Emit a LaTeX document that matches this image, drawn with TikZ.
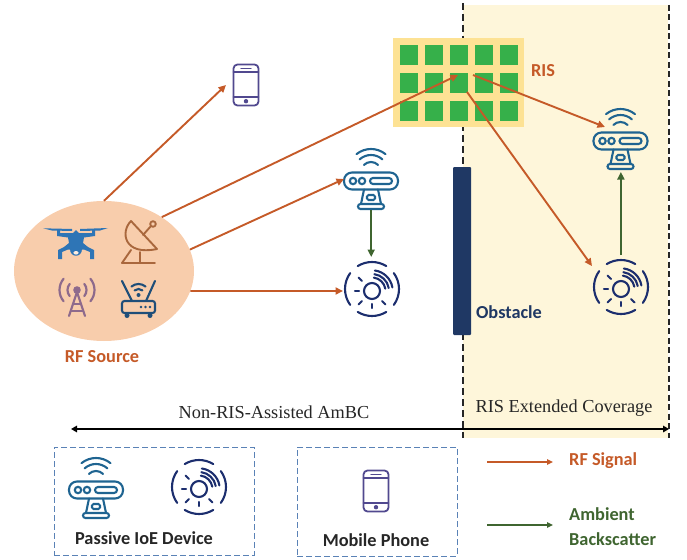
\documentclass[tikz,border=0pt]{standalone}
\usepackage{fontspec}
\setmainfont{Liberation Serif}
\newfontfamily\calb{Carlito}[BoldFont=Carlito Bold]
\usetikzlibrary{arrows.meta,shapes.geometric}
\definecolor{rforange}{HTML}{C55A28}
\definecolor{bsgreen}{HTML}{3F6530}
\definecolor{devblue}{HTML}{1F6491}
\definecolor{sensnavy}{HTML}{1C2E6E}
\definecolor{phonepurple}{HTML}{51498F}
\definecolor{covyellow}{HTML}{FEF6DA}
\definecolor{rispale}{HTML}{FDE294}
\definecolor{risgreen}{HTML}{36B04A}
\definecolor{srcpeach}{HTML}{F8CDAC}
\definecolor{obsnavy}{HTML}{1F3864}
\definecolor{boxblue}{HTML}{5A82B6}
\definecolor{dronec}{HTML}{2E75B6}
\definecolor{dishc}{HTML}{A9673D}
\definecolor{towerc}{HTML}{8E6A8C}
\definecolor{wific}{HTML}{1F4E79}
\newcommand{\parc}[5]{(#1,#2) ++(#4:#3) arc[start angle=#4,end angle=#5,radius=#3]}
\tikzset{
  rfarrow/.style={draw=rforange,line width=1.9pt,-{Triangle[length=7.5pt,width=7pt]}},
  bsarrow/.style={draw=bsgreen,line width=1.9pt,-{Triangle[length=7.5pt,width=7pt]}},
  boundary/.style={draw=black!85,line width=1.5pt,dash pattern=on 7pt off 4pt},
  boundaryr/.style={draw=black!85,line width=1.5pt,dash pattern=on 6pt off 3.5pt},
  legendbox/.style={draw=boxblue,line width=1pt,dash pattern=on 6pt off 3pt},
  calitext/.style={font=\calb\bfseries\fontsize{18.3}{20}\selectfont,inner sep=0pt},
  serifext/.style={font=\fontsize{18.3}{20}\selectfont,text=black!85,inner sep=0pt},
  pics/device/.style={code={
    \begin{scope}[draw=devblue,line width=2.1pt,line cap=round]
      \draw \parc{0}{-9}{23}{231}{309};
      \draw \parc{0}{-9}{17}{228}{312};
      \draw \parc{0}{-9}{10}{225}{315};
      \draw[rounded corners=8pt] (-27,-8.5) rectangle (27,8.5);
      \draw (-18,0) circle[radius=3.2];
      \draw (-9,0) circle[radius=3.2];
      \draw[rounded corners=3pt] (-1,-3) rectangle (21,3);
      \draw (-7,8.5) -- (-10,23) (7,8.5) -- (10,23);
      \draw[rounded corners=1.5pt] (-4,14) rectangle (4,19);
      \draw[rounded corners=2.5pt] (-13,23) rectangle (13,28);
    \end{scope}}},
  pics/sensor/.style={code={
    \begin{scope}[draw=sensnavy,line width=2.1pt,line cap=round]
      \draw \parc{0}{0}{27}{238}{302};
      \draw \parc{0}{0}{27}{58}{122};
      \draw \parc{0}{0}{27}{-36}{36};
      \draw \parc{0}{0}{27}{144}{216};
      \draw (0,2) circle[radius=8];
      \draw \parc{0}{2}{13.5}{278}{350};
      \draw \parc{0}{2}{17}{278}{350};
      \draw \parc{0}{2}{20.7}{278}{350};
      \draw (-13,2) -- (-17,2);
      \draw (0,15) -- (0,19);
      \draw (-10,12) -- (-13.5,15.5);
      \draw (10,12) -- (13.5,15.5);
      \draw (-10,-8) -- (-13.5,-11.5);
    \end{scope}}},
  pics/phone/.style={code={
    \begin{scope}[draw=phonepurple,line width=1.8pt,line cap=round]
      \draw[rounded corners=4pt] (-12.5,-20.5) rectangle (12.5,20.5);
      \draw (-12.5,-13) -- (12.5,-13) (-12.5,12) -- (12.5,12);
      \draw[line width=1.3pt] (-5,-16.7) -- (5,-16.7);
      \fill[phonepurple] (0,16.2) circle[radius=2.2];
    \end{scope}}}
}
\begin{document}
\begin{tikzpicture}[x=1pt,y=-1pt]
\useasboundingbox (0,0) rectangle (687,559);
% coverage region
\fill[covyellow] (463,5) rectangle (668,438);
\coordinate (cvtl) at (463,3);
\coordinate (cvbl) at (463,438);
\coordinate (cvtr) at (669,5);
\coordinate (cvbr) at (669,438);
\draw[boundary] (cvtl) -- (cvbl);
\draw[boundaryr] (cvtr) -- (cvbr);
% RIS
\node[draw=none,fill=rispale,minimum width=131pt,minimum height=89pt,inner sep=0pt] (ris) at (458.5,82.5) {};
\foreach \i in {400,425,450,475,500}
  \foreach \j in {45,73,101}
    \fill[risgreen] (\i,\j) rectangle ++(18,20);
\node[calitext,text=rforange] (rislabel) at (543,71) {RIS};
% obstacle
\node[fill=obsnavy,rounded corners=1pt,minimum width=18pt,minimum height=168pt,inner sep=0pt] (obstacle) at (462,251) {};
\node[calitext,text=obsnavy] (obslabel) at (509,312) {Obstacle};
% source
\node[ellipse,fill=srcpeach,minimum width=180pt,minimum height=140pt,inner sep=0pt] (src) at (104,271) {};
\node[calitext,text=rforange] (srclabel) at (102,357) {RF Source};
% drone
\begin{scope}
  \fill[dronec] (43,228.3) -- (72,229) -- (72,231) -- (52,230.5) -- cycle;
  \fill[dronec] (108,228) -- (80,229) -- (80,231) -- (100,230.5) -- cycle;
  \fill[dronec] (57,230) -- (60,230) -- (60,233) -- (92,233) -- (92,230) -- (95,230) -- (95,236) -- (84,237.5)
     -- (83,243) -- (88,247) -- (94,250) -- (94,259) -- (90,259) -- (90,252) -- (84,249.5) -- (68,249.5) -- (62,252) -- (62,259) -- (58,259)
     -- (58,250) -- (64,247) -- (69,243) -- (68,237.5) -- (57,236) -- cycle;
  \fill[dronec] (73,233) -- (76,230) -- (79,233) -- cycle;
  \fill[dronec] (70,249) .. controls (70,258) and (82,258) .. (82,249) -- cycle;
  \fill[srcpeach!40!white] (76,252.8) ellipse[x radius=2.6,y radius=1.8];
\end{scope}
% dish
\begin{scope}[draw=dishc,line width=1.9pt,line cap=round,line join=round]
  \draw (131,221) .. controls (120,232) and (124,256) .. (157,249) -- cycle;
  \draw (143,235) -- (151,226);
  \draw (153,224) circle[radius=2.8];
  \draw (122,263) -- (155,263);
  \draw (122,263) -- (131,250);
  \draw (140,252) -- (140,263);
\end{scope}
% tower
\begin{scope}[draw=towerc,fill=towerc,line width=2.2pt,line cap=round]
  \fill (77,290) circle[radius=3.8];
  \draw (77,292) -- (69,316) (77,292) -- (85,316);
  \draw (73,304) -- (81,304) (71,311) -- (83,311);
  \draw \parc{77}{290}{9.5}{140}{220};
  \draw \parc{77}{290}{9.5}{-40}{40};
  \draw \parc{77}{290}{17.5}{140}{220};
  \draw \parc{77}{290}{17.5}{-40}{40};
\end{scope}
% wifi router
\begin{scope}[draw=wific,line width=2.1pt,line cap=round]
  \draw[rounded corners=2.5pt] (122,301) rectangle (155,313);
  \fill[wific] (127,315.5) circle[radius=2.5] (150,315.5) circle[radius=2.5];
  \draw (122,281) -- (132,301) (155,281) -- (146,301);
  \fill[wific] (138.5,295) circle[radius=2];
  \draw \parc{138.5}{295}{6}{230}{310};
  \draw \parc{138.5}{295}{11}{230}{310};
  \fill[wific] (141,307) circle[radius=1.4] (145.5,307) circle[radius=1.4] (150,307) circle[radius=1.4];
\end{scope}
% devices
\pic at (246,85) {phone};
\pic at (371,181) {device};
\pic at (372,289) {sensor};
\pic at (620.5,141) {device};
\pic at (621,287) {sensor};
% connector ends
\coordinate (phonein) at (226,85);
\coordinate (risin) at (458,75);
\coordinate (risout) at (473,75);
\coordinate (risdown) at (467,92);
\coordinate (dev1in) at (344,179);
\coordinate (dev1out) at (371.2,210);
\coordinate (sens1top) at (371.2,257);
\coordinate (sens1in) at (343,291);
\coordinate (dev2in) at (605,127);
\coordinate (dev2out) at (620.9,172);
\coordinate (sens2top) at (620.9,255);
\coordinate (sens2in) at (592,266);
\draw[rfarrow] (src.north) -- (phonein);
\draw[rfarrow] (src.43) -- (risin);
\draw[rfarrow] (src.14) -- (dev1in);
\draw[rfarrow] (src.-13) -- (sens1in);
\draw[rfarrow] (risout) -- (dev2in);
\draw[rfarrow] (risdown) -- (sens2in);
\draw[bsarrow] (dev1out) -- (sens1top);
\draw[bsarrow] (sens2top) -- (dev2out);
% span
\coordinate (spanl) at (71,429);
\coordinate (spanr) at (669,429);
\draw[black,line width=1.8pt,{Triangle[length=6pt,width=6.5pt]}-{Triangle[length=6pt,width=6.5pt]}] (spanl) -- (spanr);
\node[serifext] (nonris) at (274,412) {Non-RIS-Assisted AmBC};
\node[serifext] (risext) at (564,408.5) {RIS Extended Coverage};
% legend
\node[legendbox,minimum width=200pt,minimum height=108pt,inner sep=0pt] (boxa) at (154,501) {};
\node[legendbox,minimum width=160pt,minimum height=109pt,inner sep=0pt] (boxb) at (377,501.5) {};
\pic at (96,490) {device};
\pic at (199,487) {sensor};
\pic at (376,491) {phone};
\node[calitext,text=black!85] (lbla) at (144,538) {Passive IoE Device};
\node[calitext,text=black!85] (lblb) at (376,540.5) {Mobile Phone};
\coordinate (lra) at (487,462);
\coordinate (lrb) at (553,462);
\coordinate (lga) at (487,525);
\coordinate (lgb) at (553,525);
\draw[draw=rforange,line width=1.6pt,-{Triangle[length=6pt,width=5.5pt]}] (lra) -- (lrb);
\draw[draw=bsgreen,line width=1.6pt,-{Triangle[length=6pt,width=5.5pt]}] (lga) -- (lgb);
\node[calitext,text=rforange,anchor=west] (lblrf) at (569,461) {RF Signal};
\node[calitext,text=bsgreen,anchor=west] (lblam) at (569,514) {Ambient};
\node[calitext,text=bsgreen,anchor=west] (lblbs) at (569,539) {Backscatter};
\end{tikzpicture}
\end{document}
